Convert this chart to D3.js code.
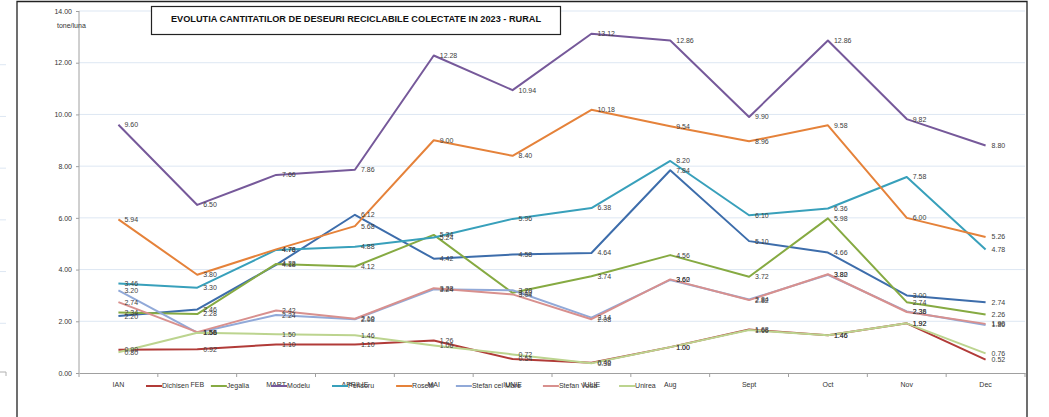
<!DOCTYPE html>
<html>
<head>
    <title>Evolutia cantitatilor de deseuri reciclabile - rural</title>
    <style>
        body { margin: 0; background: #fff; }
        text { font-family: "Liberation Sans", Arial, sans-serif; }
        .grid line { stroke: #dde7f3; stroke-width: 1; }
        .lbl { font-size: 7px; fill: #404040; }
    </style>
</head>
<body>
    <div id="chart"></div>
    <script src="https://d3js.org/d3.v7.min.js"></script>
    <script>
        // categories (months)
        const months = ["IAN", "FEB", "MART", "APRILIE", "MAI", "IUNIE", "IULIE", "Aug", "Sept", "Oct", "Nov", "Dec"];
        const yTicks = [0, 2, 4, 6, 8, 10, 12, 14];

        // series values, tone/luna
        const dichisen      = [0.90, 0.92, 1.10, 1.10, 1.26, 0.54, 0.40, 1.00, 1.68, 1.46, 1.92, 0.52];
        const jegalia       = [2.34, 2.28, 4.22, 4.12, 5.34, 3.10, 3.74, 4.56, 3.72, 5.98, 2.74, 2.26];
        const modelu        = [9.60, 6.50, 7.66, 7.86, 12.28, 10.94, 13.12, 12.86, 9.90, 12.86, 9.82, 8.80];
        const perisoru      = [3.46, 3.30, 4.76, 4.88, 5.24, 5.96, 6.38, 8.20, 6.10, 6.36, 7.58, 4.78];
        const rosetti       = [5.94, 3.80, 4.78, 5.68, 9.00, 8.40, 10.18, 9.54, 8.96, 9.58, 6.00, 5.26];
        const stefanCelMare = [3.20, 1.56, 2.24, 2.08, 3.24, 3.20, 2.14, 3.60, 2.84, 3.80, 2.38, 1.86];
        const stefanVoda    = [2.74, 1.58, 2.42, 2.10, 3.28, 3.04, 2.08, 3.62, 2.82, 3.82, 2.36, 1.90];
        const unirea        = [0.80, 1.56, 1.50, 1.46, 1.06, 0.72, 0.38, 1.00, 1.66, 1.46, 1.92, 0.76];
        // series drawn in the chart but missing from its legend
        const faraNume      = [2.20, 2.46, 4.18, 6.12, 4.42, 4.58, 4.64, 7.84, 5.10, 4.66, 3.00, 2.74];

        const series = [
            { name: "", values: faraNume, color: "#3d6dab", legend: false },
            { name: "Dichisen", values: dichisen, color: "#b13b38", legend: true },
            { name: "Jegalia", values: jegalia, color: "#86aa42", legend: true },
            { name: "Modelu", values: modelu, color: "#76599a", legend: true },
            { name: "Perisoru", values: perisoru, color: "#38a0bb", legend: true },
            { name: "Rosetti", values: rosetti, color: "#e5823a", legend: true },
            { name: "Stefan cel Mare", values: stefanCelMare, color: "#91a9d8", legend: true },
            { name: "Stefan Voda", values: stefanVoda, color: "#d8908e", legend: true },
            { name: "Unirea", values: unirea, color: "#bcd48f", legend: true }
        ];

        const W = 1049, H = 417;
        const svg = d3.select("#chart").append("svg")
            .attr("width", W).attr("height", H);

        const x = d3.scaleBand().domain(months).range([79, 1025]);
        const y = d3.scaleLinear().domain([0, 14]).range([373, 11]);
        const cx = d => x(d) + x.bandwidth() / 2;

        // stubs of the neighbouring chart on the left edge
        svg.append("g").selectAll("line").data(yTicks.slice(1, 7)).join("line")
            .attr("x1", 0).attr("x2", 6)
            .attr("y1", d => y(d) + 2).attr("y2", d => y(d) + 2)
            .attr("stroke", "#dde7f3");
        svg.append("path").attr("d", "M0,372H6V376").attr("fill", "none").attr("stroke", "#b0b0b0");

        // chart border
        svg.append("path")
            .attr("d", "M17,417V1.5H1027V417")
            .attr("fill", "none").attr("stroke", "#222").attr("stroke-width", 1.3);

        // gridlines
        svg.append("g").attr("class", "grid").selectAll("line")
            .data(yTicks.filter(d => d > 0)).join("line")
            .attr("x1", 79).attr("x2", 1025)
            .attr("y1", d => y(d)).attr("y2", d => y(d));

        // y axis
        const yAxis = svg.append("g").attr("transform", "translate(79,0)")
            .call(d3.axisLeft(y).tickValues(yTicks).tickFormat(d3.format(".2f")).tickSize(3).tickPadding(4));
        yAxis.select(".domain").attr("stroke", "#a0a0a0").attr("d", "M0,373V11");
        yAxis.selectAll(".tick line").attr("stroke", "#a0a0a0");
        yAxis.selectAll("text").attr("font-size", 7).attr("fill", "#333").attr("font-family", "Liberation Sans, Arial");

        // x axis
        const xAxis = svg.append("g").attr("transform", "translate(0,373)")
            .call(d3.axisBottom(x).tickSize(0).tickPadding(9));
        xAxis.select(".domain").attr("stroke", "#a0a0a0").attr("stroke-width", 1.2);
        xAxis.selectAll("text").attr("font-size", 7).attr("fill", "#333").attr("font-family", "Liberation Sans, Arial");
        svg.append("g").selectAll("line").data(months.concat(["end"])).join("line")
            .attr("x1", (d, i) => 79 + i * x.bandwidth()).attr("x2", (d, i) => 79 + i * x.bandwidth())
            .attr("y1", 373).attr("y2", 377)
            .attr("stroke", "#a0a0a0");

        // axis title
        svg.append("text").attr("x", 57).attr("y", 28)
            .attr("font-size", 7).attr("fill", "#333").text("tone/luna");

        // lines
        const line = d3.line().x((d, i) => cx(months[i])).y(d => y(d));
        svg.append("g").selectAll("path").data(series).join("path")
            .attr("d", s => line(s.values))
            .attr("fill", "none")
            .attr("stroke", s => s.color)
            .attr("stroke-width", 2)
            .attr("stroke-linejoin", "round");

        // data labels
        svg.append("g").selectAll("g").data(series).join("g")
            .selectAll("text").data(s => s.values).join("text")
            .attr("class", "lbl")
            .attr("x", (d, i) => cx(months[i]) + 6)
            .attr("y", d => y(d))
            .attr("dy", "0.35em")
            .text(d => d.toFixed(2));

        // title box
        svg.append("rect").attr("x", 151.5).attr("y", 6.5).attr("width", 409).attr("height", 28)
            .attr("fill", "#fff").attr("stroke", "#222").attr("stroke-width", 1.2);
        svg.append("text").attr("x", 356).attr("y", 22)
            .attr("text-anchor", "middle")
            .attr("font-size", 9).attr("font-weight", "bold").attr("fill", "#111")
            .attr("textLength", 370).attr("lengthAdjust", "spacingAndGlyphs")
            .text("EVOLUTIA CANTITATILOR DE  DESEURI RECICLABILE COLECTATE IN 2023 - RURAL");

        // legend
        const legend = svg.append("g").attr("transform", "translate(146,386)");
        let lx = 0;
        series.filter(s => s.legend).forEach(s => {
            const g = legend.append("g").attr("transform", `translate(${lx},0)`);
            g.append("line").attr("x1", 0).attr("x2", 16).attr("y1", 0).attr("y2", 0)
                .attr("stroke", s.color).attr("stroke-width", 2);
            const t = g.append("text").attr("x", 16).attr("y", 0).attr("dy", "0.35em")
                .attr("font-size", 7).attr("fill", "#333").text(s.name);
            lx += 16 + t.node().getComputedTextLength() + 22;
        });
    </script>
</body>
</html>
